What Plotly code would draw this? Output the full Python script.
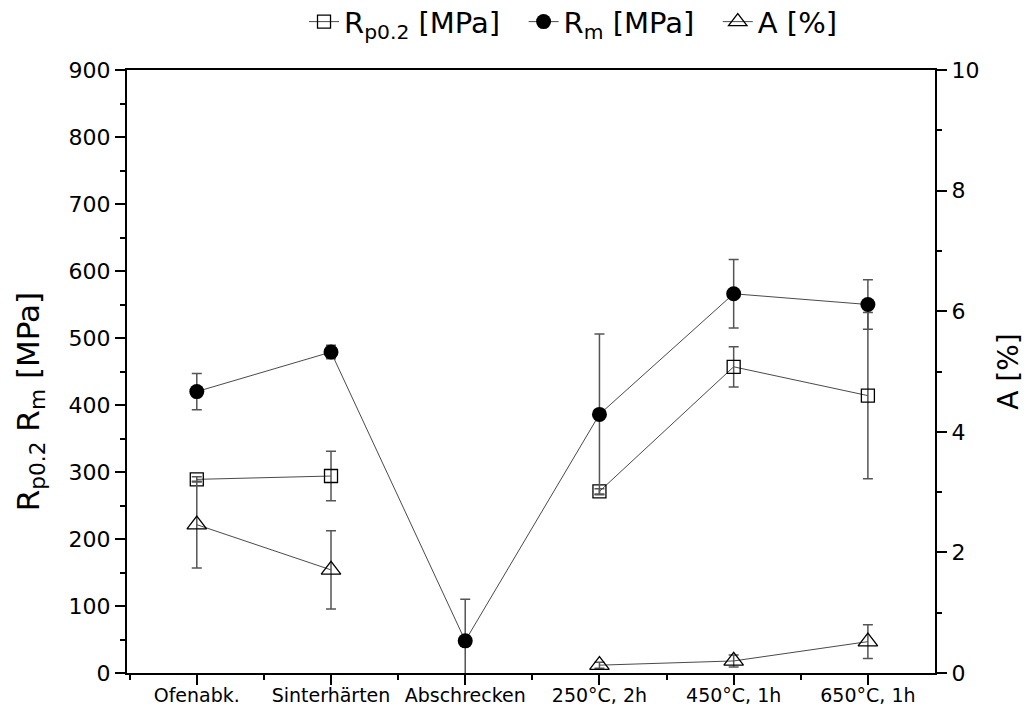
import plotly.graph_objects as go

categories = ["Ofenabk.", "Sinterhärten", "Abschrecken", "250°C, 2h", "450°C, 1h", "650°C, 1h"]
rp02 = [289, 294, None, 271, 457, 414]
rp02_err = [4, 37, 0, 4, 30, 124]
rm = [420, 479, 48, 386, 566, 550]
rm_err = [27, 10, 62, 120, 51, 37]
a_pct = [2.46, 1.71, None, 0.13, 0.20, 0.52]
a_err = [0.72, 0.65, 0, 0.05, 0.10, 0.28]

xpos = list(range(len(categories)))
FONT = "DejaVu Sans, Liberation Sans, Arial, sans-serif"
LINE_COL = "#4a4a4a"
ERR_COL = "#555555"
PAD = "\u00a0\u00a0"

fig = go.Figure()
fig.add_trace(go.Scatter(
    x=xpos, y=rp02, mode="lines+markers", name="R<sub>p0.2</sub> [MPa]" + PAD,
    line=dict(color=LINE_COL, width=1),
    marker=dict(symbol="square-open", size=13, color="black", line=dict(width=1.3, color="black")),
    error_y=dict(type="data", array=rp02_err, visible=True, color=ERR_COL, thickness=1.5, width=5),
))
fig.add_trace(go.Scatter(
    x=xpos, y=rm, mode="lines+markers", name="R<sub>m</sub> [MPa]" + PAD,
    line=dict(color=LINE_COL, width=1),
    marker=dict(symbol="circle", size=15, color="black", line=dict(width=0)),
    error_y=dict(type="data", array=rm_err, visible=True, color=ERR_COL, thickness=1.5, width=5),
))
fig.add_trace(go.Scatter(
    x=xpos, y=a_pct, mode="lines+markers", name="A [%]", yaxis="y2",
    line=dict(color=LINE_COL, width=1),
    marker=dict(symbol="triangle-up-open", size=17, color="black", line=dict(width=1.3, color="black")),
    error_y=dict(type="data", array=a_err, visible=True, color=ERR_COL, thickness=1.5, width=5),
))

fig.update_layout(
    width=1033, height=716,
    margin=dict(l=127, r=98, t=70, b=43, autoexpand=False),
    paper_bgcolor="white", plot_bgcolor="white",
    font=dict(family=FONT, color="black"),
    showlegend=True,
    legend=dict(orientation="h", x=0.552, xanchor="center", y=1.08, yanchor="middle",
                font=dict(size=29, family=FONT), traceorder="normal"),
    xaxis=dict(
        range=[-0.52, 5.5], tickmode="array", tickvals=xpos, ticktext=categories,
        showgrid=False, zeroline=False, showline=True, linecolor="black", linewidth=2,
        mirror=True, ticks="outside", ticklen=10, tickwidth=2, tickcolor="black",
        tickfont=dict(size=19, family=FONT), ticklabelstandoff=-6,
        minor=dict(tickmode="array", tickvals=[-0.5, 0.5, 1.5, 2.5, 3.5, 4.5], ticks="outside",
                   ticklen=5, tickwidth=2, tickcolor="black", showgrid=False),
    ),
    yaxis=dict(
        range=[0, 900], dtick=100, tick0=0,
        showgrid=False, zeroline=False, showline=True, linecolor="black", linewidth=2,
        ticks="outside", ticklen=10, tickwidth=2, tickcolor="black",
        tickfont=dict(size=22, family=FONT),
        minor=dict(dtick=50, ticks="outside", ticklen=5, tickwidth=2, tickcolor="black", showgrid=False),
    ),
    yaxis2=dict(
        range=[0, 10], dtick=2, tick0=0, overlaying="y", side="right",
        showgrid=False, zeroline=False, showline=True, linecolor="black", linewidth=2,
        ticks="outside", ticklen=10, tickwidth=2, tickcolor="black",
        tickfont=dict(size=22, family=FONT),
        minor=dict(dtick=1, ticks="outside", ticklen=5, tickwidth=2, tickcolor="black", showgrid=False),
        title=dict(text="A [%]", font=dict(size=28, family=FONT), standoff=20),
    ),
    annotations=[dict(
        text="R<sub>p0.2</sub> R<sub>m</sub> [MPa]", textangle=-90,
        xref="paper", yref="paper", x=-0.12, y=0.449, xanchor="center", yanchor="middle",
        showarrow=False, font=dict(size=31, family=FONT),
    )],
)

fig.write_html("out.html")
